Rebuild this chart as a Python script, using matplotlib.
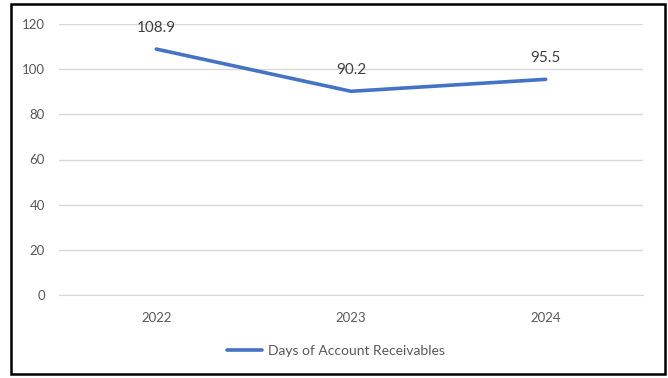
import matplotlib.pyplot as plt
from matplotlib.patches import Rectangle

years = ['2022', '2023', '2024']
days_ar = [108.9, 90.2, 95.5]
y_ticks = [0, 20, 40, 60, 80, 100, 120]

plt.rcParams['font.family'] = ['Lato', 'DejaVu Sans']
text_color = '#595959'
line_color = '#4472C4'

fig = plt.figure(figsize=(6.68, 3.78), dpi=100)
ax = fig.add_axes([59 / 668, 1 - 295 / 378, 584 / 668, 271 / 378])

x = list(range(len(years)))
ax.plot(x, days_ar, color=line_color, linewidth=2.6,
        solid_capstyle='round', label='Days of Account Receivables')

for xi, v in zip(x, days_ar):
    ax.annotate(f'{v:.1f}', (xi, v), xytext=(0, 10), textcoords='offset points',
                ha='center', va='bottom', fontsize=11, color='#404040')

ax.set_xlim(-0.5, 2.5)
ax.set_ylim(0, 120)
ax.set_yticks(y_ticks)
ax.set_xticks(x)
ax.set_xticklabels(years)
ax.tick_params(axis='both', length=0, labelsize=9.5, labelcolor=text_color)
ax.tick_params(axis='x', pad=12)
ax.tick_params(axis='y', pad=10)
ax.grid(axis='y', color='#D9D9D9', linewidth=1)
ax.set_axisbelow(True)
for s in ax.spines.values():
    s.set_visible(False)
ax.spines['bottom'].set_visible(True)
ax.spines['bottom'].set_color('#D9D9D9')

fig.legend(loc='center', bbox_to_anchor=(336 / 668, 1 - 351 / 378), frameon=False,
           fontsize=10, labelcolor=text_color, handlelength=2.5, handletextpad=0.4)

fig.patches.append(Rectangle((11 / 668, 4 / 378), 654 / 668, 370 / 378,
                             transform=fig.transFigure, fill=False,
                             edgecolor='black', linewidth=1.8))

fig.savefig('out.png', dpi=100)
